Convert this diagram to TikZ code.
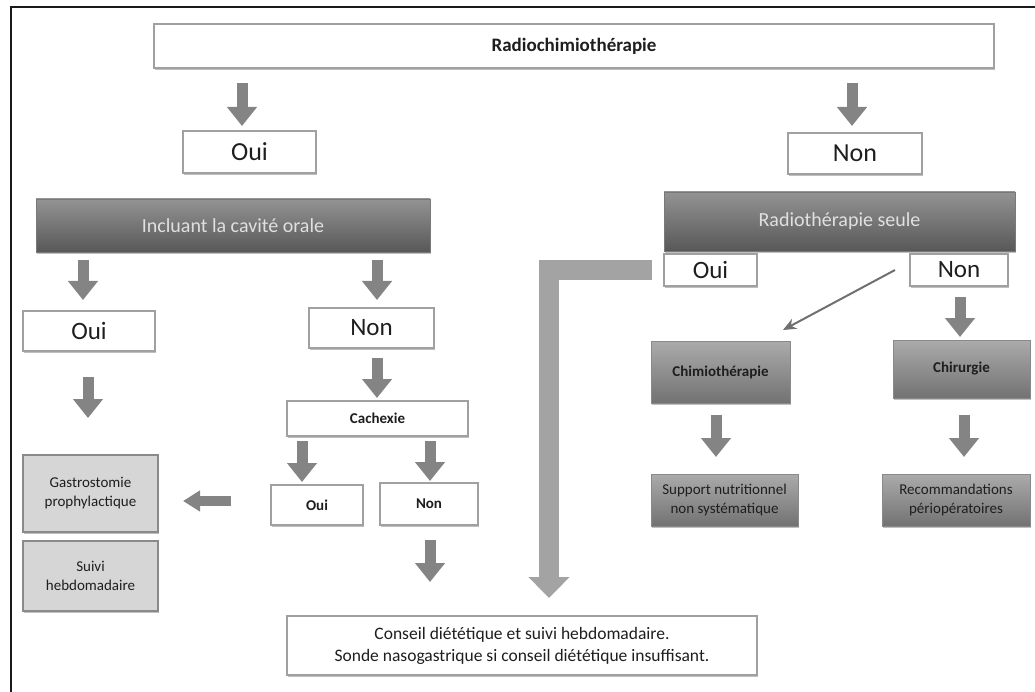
\documentclass[tikz,border=0pt]{standalone}
\usepackage{fontspec}
\setmainfont{Carlito}
\usetikzlibrary{arrows.meta,calc,shadows}

\definecolor{framec}{HTML}{1A1A1A}
\definecolor{boxline}{HTML}{A0A0A0}
\definecolor{darktop}{HTML}{939393}
\definecolor{darkbot}{HTML}{585858}
\definecolor{midtop}{HTML}{ABABAB}
\definecolor{midbot}{HTML}{727272}
\definecolor{midline}{HTML}{8A8A8A}
\definecolor{lightfill}{HTML}{D6D6D6}
\definecolor{arrowgray}{HTML}{848484}
\definecolor{bigarrow}{HTML}{A3A3A3}
\definecolor{textdark}{HTML}{1E1E1E}

\newcommand{\fs}[1]{\fontsize{#1pt}{\dimexpr #1pt*12/10\relax}\selectfont}

\tikzset{
  every node/.style={inner sep=0pt, outer sep=0pt, text=textdark},
  boxshadow/.style={drop shadow={shadow xshift=1pt, shadow yshift=-2pt, opacity=0.25, fill=black}},
  whitebox/.style={rectangle, draw=boxline, line width=1.5pt, fill=white, boxshadow, align=center},
  headbox/.style={rectangle, draw=darkbot!80, line width=0.8pt, top color=darktop, bottom color=darkbot,
    boxshadow, text=white!88!black, align=center, font=\fs{20}},
  midbox/.style={rectangle, draw=midline, line width=0.8pt, top color=midtop, bottom color=midbot,
    boxshadow, align=center},
  lightbox/.style={rectangle, draw=midline, line width=1.2pt, fill=lightfill, boxshadow, align=center,
    font=\fs{15}},
  blockarrow/.style={draw=arrowgray, line width=11pt, -{Triangle[width=29pt,length=19pt]}},
  sidearrow/.style={draw=arrowgray, line width=10pt, -{Triangle[width=20pt,length=17pt]}},
  longarrow/.style={draw=bigarrow, line width=20pt, line join=miter, -{Triangle[width=40pt,length=21pt]}},
  thinarrow/.style={draw=arrowgray!85!black, line width=2pt, -{Stealth[width=11pt,length=13pt,inset=4pt]}},
}

\begin{document}
\begin{tikzpicture}[x=1pt, y=-1pt]
\useasboundingbox (0,0) rectangle (1035,692);

% outer frame (top and left edges)
\draw[framec, line width=2pt] (1035,7) -- (11,7) -- (11,692);

% --- boxes ---
\node[whitebox, minimum width=840pt, minimum height=44pt, font=\fs{19}\bfseries] (top) at (574,46) {Radiochimiothérapie};

\node[whitebox, minimum width=133pt, minimum height=42pt, font=\fs{26}] (ouiA) at (249.5,152) {Oui};
\node[whitebox, minimum width=134pt, minimum height=41pt, font=\fs{26}] (nonA) at (855,153.5) {Non};

\node[headbox, minimum width=394pt, minimum height=53pt] (incl) at (233,225.5) {Incluant la cavité orale};
\node[headbox, minimum width=351pt, minimum height=59pt] (rads) at (839.5,221.5) {Radiothérapie seule};

\node[whitebox, minimum width=93pt, minimum height=32pt, font=\fs{25}] (ouiR) at (710.5,270) {Oui};
\node[whitebox, minimum width=98pt, minimum height=32pt, font=\fs{25}] (nonR) at (959,270) {Non};

\node[whitebox, minimum width=132pt, minimum height=40pt, font=\fs{25}] (ouiL) at (89,331) {Oui};
\node[whitebox, minimum width=125pt, minimum height=40pt, font=\fs{25}] (nonL) at (371.5,328) {Non};

\node[whitebox, minimum width=181pt, minimum height=35pt, font=\fs{15}\bfseries] (cach) at (377.5,418.5) {Cachexie};

\node[whitebox, minimum width=92pt, minimum height=40pt, font=\fs{15}\bfseries] (ouiC) at (317,505) {Oui};
\node[whitebox, minimum width=98pt, minimum height=42pt, font=\fs{15}\bfseries] (nonC) at (429,504) {Non};

\node[lightbox, minimum width=135pt, minimum height=77pt] (gastro) at (90.5,493.5) {Gastrostomie\\[1pt]prophylactique};
\node[lightbox, minimum width=135pt, minimum height=70pt] (suivi) at (90.5,576) {Suivi\\[1pt]hebdomadaire};

\node[whitebox, minimum width=470pt, minimum height=59pt, font=\fs{17.5}] (conseil) at (522,645.5)
  {Conseil diététique et suivi hebdomadaire.\\[1pt]Sonde nasogastrique si conseil diététique insuffisant.};

\node[midbox, minimum width=139pt, minimum height=62pt, font=\fs{15}\bfseries] (chimio) at (720.5,372) {Chimiothérapie};
\node[midbox, minimum width=137pt, minimum height=58pt, font=\fs{15}\bfseries] (chir) at (961.5,369) {Chirurgie};

\node[midbox, minimum width=147pt, minimum height=52pt, font=\fs{15}] (support) at (724.5,500) {Support nutritionnel\\[1pt]non systématique};
\node[midbox, minimum width=148pt, minimum height=52pt, font=\fs{15}] (recom) at (956,500) {Recommandations\\[1pt]périopératoires};

% --- block arrows ---
\coordinate (xa1) at (242,0);
\coordinate (xa2) at (852,0);
\coordinate (xa3) at (83,0);
\coordinate (xa4) at (377,0);
\coordinate (xa5) at (88,0);
\coordinate (xa7) at (302,0);
\coordinate (xa8) at (430,0);
\coordinate (xa10) at (960,0);
\coordinate (xa11) at (716,0);
\coordinate (xa12) at (964,0);

\draw[blockarrow, shorten <=15pt, shorten >=5pt] (top.south -| xa1) -- (ouiA.north -| xa1);
\draw[blockarrow, shorten <=15pt, shorten >=7pt] (top.south -| xa2) -- (nonA.north -| xa2);
\draw[blockarrow, shorten <=8pt, shorten >=11pt] (incl.south -| xa3) -- (ouiL.north -| xa3);
\draw[blockarrow, shorten <=8pt, shorten >=8pt] (incl.south -| xa4) -- (nonL.north -| xa4);
\draw[blockarrow, shorten <=26pt, shorten >=37pt] (ouiL.south -| xa5) -- (gastro.north -| xa5);
\draw[blockarrow, shorten <=10pt, shorten >=3pt] (nonL.south -| xa4) -- (cach.north -| xa4);
\draw[blockarrow, shorten <=5pt, shorten >=3pt] (cach.south -| xa7) -- (ouiC.north -| xa7);
\draw[blockarrow, shorten <=5pt, shorten >=2pt] (cach.south -| xa8) -- (nonC.north -| xa8);
\draw[blockarrow, shorten <=15pt, shorten >=34pt] (nonC.south -| xa8) -- (conseil.north -| xa8);
\draw[blockarrow, shorten <=11pt, shorten >=3pt] (nonR.south -| xa10) -- (chir.north -| xa10);
\draw[blockarrow, shorten <=12pt, shorten >=17pt] (chimio.south -| xa11) -- (support.north -| xa11);
\draw[blockarrow, shorten <=17pt, shorten >=17pt] (chir.south -| xa12) -- (recom.north -| xa12);

% left-pointing arrow towards the gastrostomy box
\coordinate (side) at ($(ouiC.west)+(-40,-4)$);
\draw[sidearrow, shorten >=25pt] (side) -- (side -| gastro.east);

% long elbow arrow from the "Oui" branch down to the advice box
\coordinate (bend) at (549,270);
\draw[longarrow, shorten >=18pt] ($(ouiR.west)+(-12,0)$) -- (bend) -- (bend |- conseil.north);

% thin diagonal arrow to the chemotherapy box
\draw[thinarrow] ($(nonR.west)+(-15,0)$) -- ($(chimio.north east)+(-7,-11)$);

\end{tikzpicture}
\end{document}
